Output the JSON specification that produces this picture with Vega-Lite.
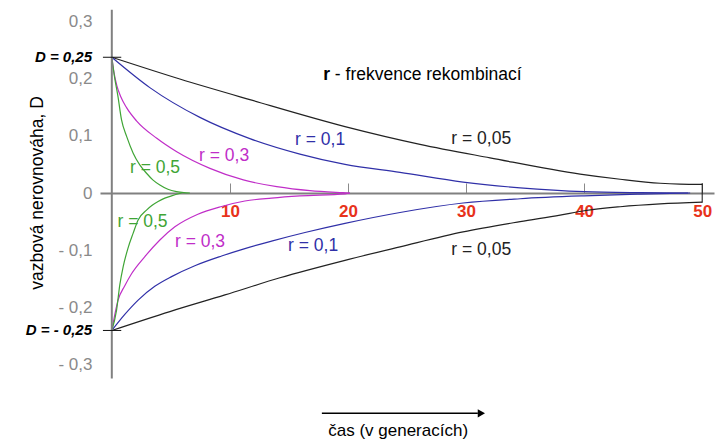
{
  "$schema": "https://vega.github.io/schema/vega-lite/v6.json",
  "width": 614,
  "height": 378,
  "autosize": {"type": "none"},
  "padding": {"left": 100, "top": 4, "right": 6, "bottom": 62},
  "background": "white",
  "config": {"view": {"stroke": null}, "font": "Liberation Sans", "axis": {"title": null, "grid": false}},
  "data": {"values": [{}]},
  "datasets": {
    "curves": [
      {"r": "0.05", "b": "top", "t": 0, "D": 0.237},
      {"r": "0.05", "b": "top", "t": 5.76, "D": 0.199},
      {"r": "0.05", "b": "top", "t": 11.69, "D": 0.163},
      {"r": "0.05", "b": "top", "t": 19.75, "D": 0.116},
      {"r": "0.05", "b": "top", "t": 26.1, "D": 0.085},
      {"r": "0.05", "b": "top", "t": 32.03, "D": 0.0614},
      {"r": "0.05", "b": "top", "t": 39.66, "D": 0.033},
      {"r": "0.05", "b": "top", "t": 43.05, "D": 0.024},
      {"r": "0.05", "b": "top", "t": 46.44, "D": 0.017},
      {"r": "0.05", "b": "top", "t": 48.1, "D": 0.0155},
      {"r": "0.05", "b": "top", "t": 50, "D": 0.015},
      {"r": "0.05", "b": "bottom", "t": 0, "D": -0.24},
      {"r": "0.05", "b": "bottom", "t": 4.92, "D": -0.207},
      {"r": "0.05", "b": "bottom", "t": 9.58, "D": -0.178},
      {"r": "0.05", "b": "bottom", "t": 14.24, "D": -0.148},
      {"r": "0.05", "b": "bottom", "t": 19.75, "D": -0.1175},
      {"r": "0.05", "b": "bottom", "t": 24.41, "D": -0.094},
      {"r": "0.05", "b": "bottom", "t": 29.75, "D": -0.068},
      {"r": "0.05", "b": "bottom", "t": 34.58, "D": -0.05},
      {"r": "0.05", "b": "bottom", "t": 37.97, "D": -0.0386},
      {"r": "0.05", "b": "bottom", "t": 40.0, "D": -0.031},
      {"r": "0.05", "b": "bottom", "t": 43.05, "D": -0.024},
      {"r": "0.05", "b": "bottom", "t": 46.44, "D": -0.019},
      {"r": "0.05", "b": "bottom", "t": 50, "D": -0.016},
      {"r": "0.1", "b": "top", "t": 0, "D": 0.237},
      {"r": "0.1", "b": "top", "t": 3.22, "D": 0.184},
      {"r": "0.1", "b": "top", "t": 7.46, "D": 0.132},
      {"r": "0.1", "b": "top", "t": 11.69, "D": 0.095},
      {"r": "0.1", "b": "top", "t": 15.93, "D": 0.068},
      {"r": "0.1", "b": "top", "t": 19.75, "D": 0.05},
      {"r": "0.1", "b": "top", "t": 24.41, "D": 0.036},
      {"r": "0.1", "b": "top", "t": 29.75, "D": 0.019},
      {"r": "0.1", "b": "top", "t": 34.58, "D": 0.009},
      {"r": "0.1", "b": "top", "t": 40.0, "D": 0.0023},
      {"r": "0.1", "b": "top", "t": 44.75, "D": 0.0006},
      {"r": "0.1", "b": "top", "t": 48.8, "D": 0},
      {"r": "0.1", "b": "bottom", "t": 0, "D": -0.24},
      {"r": "0.1", "b": "bottom", "t": 1.1, "D": -0.212},
      {"r": "0.1", "b": "bottom", "t": 2.23, "D": -0.187},
      {"r": "0.1", "b": "bottom", "t": 3.64, "D": -0.163},
      {"r": "0.1", "b": "bottom", "t": 5.06, "D": -0.146},
      {"r": "0.1", "b": "bottom", "t": 7.03, "D": -0.127},
      {"r": "0.1", "b": "bottom", "t": 9.3, "D": -0.11},
      {"r": "0.1", "b": "bottom", "t": 11.27, "D": -0.097},
      {"r": "0.1", "b": "bottom", "t": 13.53, "D": -0.084},
      {"r": "0.1", "b": "bottom", "t": 16.36, "D": -0.069},
      {"r": "0.1", "b": "bottom", "t": 19.75, "D": -0.053},
      {"r": "0.1", "b": "bottom", "t": 24.41, "D": -0.034},
      {"r": "0.1", "b": "bottom", "t": 29.75, "D": -0.0175},
      {"r": "0.1", "b": "bottom", "t": 34.58, "D": -0.01},
      {"r": "0.1", "b": "bottom", "t": 40.0, "D": -0.005},
      {"r": "0.1", "b": "bottom", "t": 44.75, "D": -0.002},
      {"r": "0.1", "b": "bottom", "t": 48.98, "D": 0},
      {"r": "0.3", "b": "top", "t": 0, "D": 0.237},
      {"r": "0.3", "b": "top", "t": 0.17, "D": 0.212},
      {"r": "0.3", "b": "top", "t": 0.42, "D": 0.188},
      {"r": "0.3", "b": "top", "t": 0.76, "D": 0.168},
      {"r": "0.3", "b": "top", "t": 1.25, "D": 0.149},
      {"r": "0.3", "b": "top", "t": 2.09, "D": 0.126},
      {"r": "0.3", "b": "top", "t": 3.81, "D": 0.0955},
      {"r": "0.3", "b": "top", "t": 5.5, "D": 0.072},
      {"r": "0.3", "b": "top", "t": 8.31, "D": 0.043},
      {"r": "0.3", "b": "top", "t": 11.14, "D": 0.0228},
      {"r": "0.3", "b": "top", "t": 13.97, "D": 0.011},
      {"r": "0.3", "b": "top", "t": 16.78, "D": 0.004},
      {"r": "0.3", "b": "top", "t": 19.58, "D": 0.0006},
      {"r": "0.3", "b": "top", "t": 20.17, "D": 0},
      {"r": "0.3", "b": "bottom", "t": 0, "D": -0.24},
      {"r": "0.3", "b": "bottom", "t": 0.53, "D": -0.187},
      {"r": "0.3", "b": "bottom", "t": 1.1, "D": -0.162},
      {"r": "0.3", "b": "bottom", "t": 1.67, "D": -0.141},
      {"r": "0.3", "b": "bottom", "t": 2.8, "D": -0.111},
      {"r": "0.3", "b": "bottom", "t": 4.07, "D": -0.082},
      {"r": "0.3", "b": "bottom", "t": 5.34, "D": -0.059},
      {"r": "0.3", "b": "bottom", "t": 7.29, "D": -0.037},
      {"r": "0.3", "b": "bottom", "t": 9.3, "D": -0.0235},
      {"r": "0.3", "b": "bottom", "t": 11.27, "D": -0.014},
      {"r": "0.3", "b": "bottom", "t": 13.53, "D": -0.0088},
      {"r": "0.3", "b": "bottom", "t": 15.93, "D": -0.005},
      {"r": "0.3", "b": "bottom", "t": 19.75, "D": -0.0015},
      {"r": "0.3", "b": "bottom", "t": 20.17, "D": 0},
      {"r": "0.5", "b": "top", "t": 0, "D": 0.237},
      {"r": "0.5", "b": "top", "t": 0.25, "D": 0.2},
      {"r": "0.5", "b": "top", "t": 0.51, "D": 0.17},
      {"r": "0.5", "b": "top", "t": 0.82, "D": 0.128},
      {"r": "0.5", "b": "top", "t": 1.27, "D": 0.098},
      {"r": "0.5", "b": "top", "t": 1.81, "D": 0.0696},
      {"r": "0.5", "b": "top", "t": 2.37, "D": 0.049},
      {"r": "0.5", "b": "top", "t": 2.94, "D": 0.0345},
      {"r": "0.5", "b": "top", "t": 3.47, "D": 0.023},
      {"r": "0.5", "b": "top", "t": 4.07, "D": 0.014},
      {"r": "0.5", "b": "top", "t": 4.75, "D": 0.0065},
      {"r": "0.5", "b": "top", "t": 5.48, "D": 0.0023},
      {"r": "0.5", "b": "top", "t": 6.1, "D": 0.0005},
      {"r": "0.5", "b": "top", "t": 6.61, "D": 0},
      {"r": "0.5", "b": "bottom", "t": 0, "D": -0.24},
      {"r": "0.5", "b": "bottom", "t": 0.4, "D": -0.205},
      {"r": "0.5", "b": "bottom", "t": 0.68, "D": -0.16},
      {"r": "0.5", "b": "bottom", "t": 0.96, "D": -0.129},
      {"r": "0.5", "b": "bottom", "t": 1.36, "D": -0.097},
      {"r": "0.5", "b": "bottom", "t": 1.81, "D": -0.07},
      {"r": "0.5", "b": "bottom", "t": 2.23, "D": -0.047},
      {"r": "0.5", "b": "bottom", "t": 2.94, "D": -0.03},
      {"r": "0.5", "b": "bottom", "t": 3.39, "D": -0.022},
      {"r": "0.5", "b": "bottom", "t": 3.92, "D": -0.015},
      {"r": "0.5", "b": "bottom", "t": 4.49, "D": -0.009},
      {"r": "0.5", "b": "bottom", "t": 5.06, "D": -0.005},
      {"r": "0.5", "b": "bottom", "t": 5.91, "D": 0}
    ],
    "labels": [
      {"r": "0.05", "t": 31.29, "D": 0.0943, "label": "r = 0,05"},
      {"r": "0.1", "t": 17.64, "D": 0.0917, "label": "r = 0,1"},
      {"r": "0.3", "t": 9.51, "D": 0.0646, "label": "r = 0,3"},
      {"r": "0.5", "t": 3.66, "D": 0.0431, "label": "r = 0,5"},
      {"r": "0.5", "t": 2.6, "D": -0.0501, "label": "r = 0,5"},
      {"r": "0.3", "t": 7.47, "D": -0.0864, "label": "r = 0,3"},
      {"r": "0.1", "t": 17.05, "D": -0.0917, "label": "r = 0,1"},
      {"r": "0.05", "t": 31.29, "D": -0.0995, "label": "r = 0,05"}
    ]
  },
  "layer": [
    {
      "data": {"name": "curves"},
      "mark": {"type": "line", "interpolate": "monotone", "strokeWidth": 1.2},
      "encoding": {
        "x": {
          "field": "t", "type": "quantitative",
          "scale": {"domain": [-1, 51], "nice": false, "zero": false},
          "axis": {
            "orient": "bottom", "offset": -189, "values": [10, 20, 30, 40, 50],
            "title": null, "grid": false,
            "domain": true, "domainColor": "#808080", "domainWidth": 2,
            "ticks": true, "tickSize": -10, "tickColor": "#8a8a8a", "tickWidth": 1,
            "labelPadding": 20, "labelColor": "#e8321a", "labelFontWeight": "bold",
            "labelFontSize": 17, "labelFont": "Liberation Sans", "labelBaseline": "top"
          }
        },
        "y": {
          "field": "D", "type": "quantitative",
          "scale": {"domain": [-0.33, 0.33], "nice": false, "zero": false},
          "axis": {
            "orient": "left", "values": [-0.3, -0.2, -0.1, 0, 0.1, 0.2, 0.3],
            "title": null, "grid": false, "domain": false, "ticks": false,
            "labelPadding": 8, "labelColor": "#8a8a8a", "labelFontSize": 17,
            "labelFont": "Liberation Sans",
            "labelExpr": "datum.value == 0 ? '0' : (datum.value < 0 ? '- ' : '') + replace(format(abs(datum.value), '.1f'), '.', ',')"
          }
        },
        "color": {
          "field": "r", "type": "nominal",
          "scale": {"domain": ["0.05", "0.1", "0.3", "0.5"], "range": ["#222222", "#3030a8", "#c02ec8", "#3fa535"]},
          "legend": null
        },
        "detail": {"field": "b"},
        "order": {"field": "t", "type": "quantitative"}
      }
    },
    {
      "mark": {"type": "rule", "color": "#808080", "strokeWidth": 2},
      "encoding": {
        "x": {"datum": 0, "type": "quantitative"},
        "y": {"datum": 0.32, "type": "quantitative"},
        "y2": {"datum": -0.324}
      }
    },
    {
      "data": {"name": "labels"},
      "mark": {"type": "text", "fontSize": 17.5, "font": "Liberation Sans", "align": "center", "baseline": "middle"},
      "encoding": {
        "x": {"field": "t", "type": "quantitative"},
        "y": {"field": "D", "type": "quantitative"},
        "text": {"field": "label"},
        "color": {"field": "r", "type": "nominal", "legend": null}
      }
    },
    {
      "mark": {"type": "rule", "color": "#111111", "strokeWidth": 1},
      "encoding": {
        "x": {"datum": -0.75, "type": "quantitative"},
        "x2": {"datum": 0.8},
        "y": {"datum": 0.237, "type": "quantitative"}
      }
    },
    {
      "mark": {"type": "rule", "color": "#111111", "strokeWidth": 1},
      "encoding": {
        "x": {"datum": -0.75, "type": "quantitative"},
        "x2": {"datum": 0.8},
        "y": {"datum": -0.24, "type": "quantitative"}
      }
    },
    {
      "mark": {"type": "rule", "color": "#111111", "strokeWidth": 1},
      "encoding": {
        "x": {"datum": 50, "type": "quantitative"},
        "y": {"datum": 0.017, "type": "quantitative"},
        "y2": {"datum": -0.017}
      }
    },
    {
      "mark": {"type": "text", "fontSize": 15, "fontWeight": "bold", "fontStyle": "italic", "font": "Liberation Sans", "align": "right", "baseline": "middle", "dx": -8, "color": "#000000"},
      "encoding": {
        "x": {"datum": -1, "type": "quantitative"},
        "y": {"datum": 0.237, "type": "quantitative"},
        "text": {"value": "D = 0,25"}
      }
    },
    {
      "mark": {"type": "text", "fontSize": 15, "fontWeight": "bold", "fontStyle": "italic", "font": "Liberation Sans", "align": "right", "baseline": "middle", "dx": -8, "color": "#000000"},
      "encoding": {
        "x": {"datum": -1, "type": "quantitative"},
        "y": {"datum": -0.24, "type": "quantitative"},
        "text": {"value": "D = - 0,25"}
      }
    },
    {
      "mark": {"type": "text", "fontSize": 17.5, "font": "Liberation Sans", "align": "center", "baseline": "middle", "angle": 270, "color": "#000000"},
      "encoding": {
        "x": {"datum": -6.27, "type": "quantitative"},
        "y": {"datum": 0, "type": "quantitative"},
        "text": {"value": "vazbová nerovnováha, D"}
      }
    },
    {
      "mark": {"type": "text", "fontSize": 17.5, "fontWeight": "bold", "font": "Liberation Sans", "align": "left", "baseline": "middle", "color": "#000000"},
      "encoding": {
        "x": {"datum": 17.9, "type": "quantitative"},
        "y": {"datum": 0.206, "type": "quantitative"},
        "text": {"value": "r"}
      }
    },
    {
      "mark": {"type": "text", "fontSize": 17.5, "font": "Liberation Sans", "align": "left", "baseline": "middle", "color": "#000000"},
      "encoding": {
        "x": {"datum": 18.89, "type": "quantitative"},
        "y": {"datum": 0.206, "type": "quantitative"},
        "text": {"value": "- frekvence rekombinací"}
      }
    },
    {
      "mark": {"type": "rule", "color": "#000000", "strokeWidth": 1.5},
      "encoding": {
        "x": {"datum": 17.79, "type": "quantitative"},
        "x2": {"datum": 31.0},
        "y": {"datum": -0.3847, "type": "quantitative"}
      }
    },
    {
      "mark": {"type": "point", "shape": "triangle-right", "filled": true, "color": "#000000", "size": 70, "opacity": 1},
      "encoding": {
        "x": {"datum": 31.3, "type": "quantitative"},
        "y": {"datum": -0.3847, "type": "quantitative"}
      }
    },
    {
      "mark": {"type": "text", "fontSize": 17, "font": "Liberation Sans", "align": "center", "baseline": "middle", "color": "#000000"},
      "encoding": {
        "x": {"datum": 24.25, "type": "quantitative"},
        "y": {"datum": -0.4156, "type": "quantitative"},
        "text": {"value": "čas (v generacích)"}
      }
    }
  ]
}
